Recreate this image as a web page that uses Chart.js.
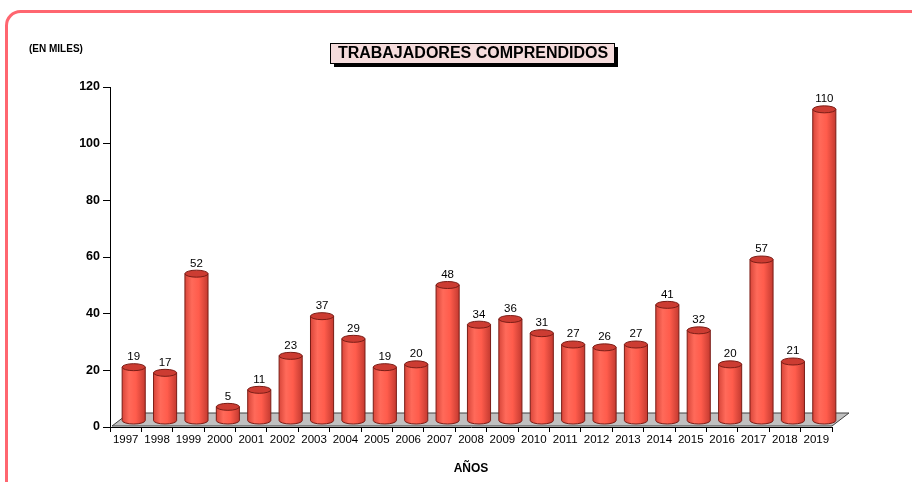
<!DOCTYPE html>
<html>
<head>
<meta charset="utf-8">
<script src="https://cdn.jsdelivr.net/npm/chart.js@4"></script>
<style>
  html, body { margin: 0; padding: 0; background: #fff; }
  #wrap { width: 912px; height: 482px; }
</style>
</head>
<body>
<div id="wrap"><canvas id="chart" width="912" height="482"></canvas></div>
<script>
"use strict";
const years = ["1997", "1998", "1999", "2000", "2001", "2002", "2003", "2004", "2005", "2006", "2007", "2008",
  "2009", "2010", "2011", "2012", "2013", "2014", "2015", "2016", "2017", "2018", "2019"];
const workers = [19, 17, 52, 5, 11, 23, 37, 29, 19, 20, 48, 34, 36, 31, 27, 26, 27, 41, 32, 20, 57, 21, 110];
const yTicks = [0, 20, 40, 60, 80, 100, 120];

const titleText = "TRABAJADORES COMPRENDIDOS";
const unitText = "(EN MILES)";
const FONT = "'Liberation Sans', Arial, sans-serif";
const DX = 8, DY = -6; // depth shift of the cylinders
const FX = 17, FY = -13; // floor depth

// frame, title box, floor
const decor = {
  id: "decor",
  beforeDraw(chart) {
    const c = chart.ctx;
    c.save();
    c.strokeStyle = "#ff6670";
    c.lineWidth = 3;
    c.beginPath();
    c.roundRect(6.5, 11.5, 930, 500, 14);
    c.stroke();

    c.fillStyle = "#000";
    c.font = "bold 10px " + FONT;
    c.textBaseline = "middle";
    c.fillText(unitText, 29, 49);

    c.fillStyle = "#000";
    c.fillRect(334, 47, 284, 20);
    c.fillStyle = "#f5dcdc";
    c.fillRect(330, 43, 284, 20);
    c.strokeStyle = "#000";
    c.lineWidth = 1;
    c.strokeRect(330.5, 43.5, 284, 20);
    c.fillStyle = "#000";
    c.font = "bold 16px " + FONT;
    c.textAlign = "center";
    c.fillText(titleText, 473, 54);
    c.restore();
  },
  beforeDatasetsDraw(chart) {
    const c = chart.ctx;
    const a = chart.chartArea;
    c.save();
    c.fillStyle = "#c0c0c0";
    c.strokeStyle = "#404040";
    c.lineWidth = 1;
    c.beginPath();
    c.moveTo(a.left + 2, a.bottom - 1);
    c.lineTo(a.right, a.bottom - 1);
    c.lineTo(a.right + FX, a.bottom - 1 + FY);
    c.lineTo(a.left + 2 + FX, a.bottom - 1 + FY);
    c.closePath();
    c.fill();
    c.stroke();
    c.restore();
  },
};

// cylinders drawn at the bar elements' positions
const cylinders = {
  id: "cylinders",
  afterDatasetsDraw(chart) {
    const c = chart.ctx;
    const meta = chart.getDatasetMeta(0);
    c.save();
    meta.data.forEach((bar, i) => {
      const cx = bar.x + DX;
      const rx = bar.width / 2;
      const ry = 3.5;
      const top = bar.y + DY;
      const base = bar.base + DY;
      const g = c.createLinearGradient(cx - rx, 0, cx + rx, 0);
      g.addColorStop(0, "#d8463a");
      g.addColorStop(0.3, "#ff6a5a");
      g.addColorStop(0.6, "#ff5c4c");
      g.addColorStop(1, "#c43a30");
      c.fillStyle = g;
      c.strokeStyle = "#7a1d16";
      c.lineWidth = 1;
      c.beginPath();
      c.moveTo(cx - rx, top);
      c.lineTo(cx - rx, base);
      c.ellipse(cx, base, rx, ry, 0, Math.PI, 0, true);
      c.lineTo(cx + rx, top);
      c.closePath();
      c.fill();
      c.stroke();

      c.fillStyle = "#cc3c32";
      c.beginPath();
      c.ellipse(cx, top, rx, ry, 0, 0, Math.PI * 2);
      c.fill();
      c.stroke();

      c.fillStyle = "#000";
      c.font = "11.5px " + FONT;
      c.textAlign = "center";
      c.textBaseline = "bottom";
      c.fillText(String(workers[i]), cx, top - ry - 1);
    });
    c.restore();
  },
};

new Chart(document.getElementById("chart"), {
  type: "bar",
  data: {
    labels: years,
    datasets: [{
      data: workers,
      backgroundColor: "rgba(0,0,0,0)",
      borderWidth: 0,
      barPercentage: 0.8,
      categoryPercentage: 0.92,
    }],
  },
  options: {
    responsive: false,
    animation: false,
    layout: { padding: { top: 87, right: 80, left: 0, bottom: 0 } },
    plugins: { legend: { display: false }, tooltip: { enabled: false } },
    scales: {
      x: {
        grid: { display: true, offset: true, drawOnChartArea: false, tickLength: 5, color: "#000" },
        border: { color: "#000", width: 1 },
        ticks: { color: "#000", font: { family: FONT, size: 11.5 }, padding: 1, maxRotation: 0, autoSkip: false },
        title: { display: true, text: "AÑOS", color: "#000", font: { family: FONT, size: 12, weight: "bold" }, padding: { top: 9, bottom: 6 } },
        afterFit(s) { s.height = 55; },
      },
      y: {
        min: 0,
        max: 120,
        afterBuildTicks(s) { s.ticks = yTicks.map((v) => ({ value: v })); },
        grid: { display: true, drawOnChartArea: false, tickLength: 7, color: "#000" },
        border: { color: "#000", width: 1 },
        ticks: { color: "#000", font: { family: FONT, size: 12.5, weight: "bold" }, padding: 3 },
        afterFit(s) { s.width = 110; },
      },
    },
  },
  plugins: [decor, cylinders],
});
</script>
</body>
</html>
